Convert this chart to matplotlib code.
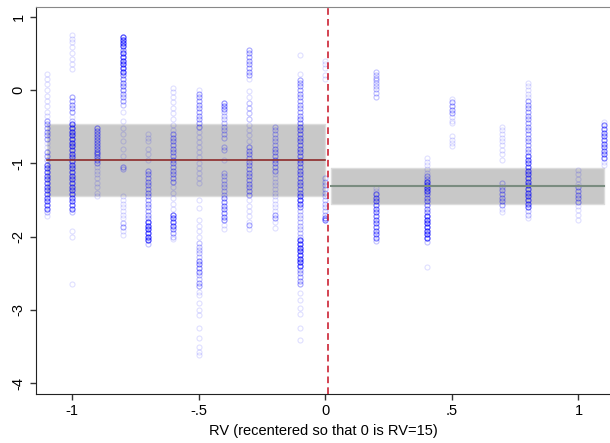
import numpy as np
import matplotlib.pyplot as plt

plt.rcParams['font.family'] = ['Liberation Sans', 'DejaVu Sans']

# columns of observations at each RV value: (outcome, number of overlapping obs)
col_m110 = [(0.22, 1), (0.15, 1), (0.08, 1), (0.0, 1), (-0.08, 1), (-0.15, 1), (-0.22, 1),
            (-0.3, 1), (-0.36, 1), (-0.42, 3), (-0.47, 3), (-0.52, 3), (-0.57, 3), (-0.62, 3),
            (-0.67, 3), (-0.72, 1), (-0.78, 1), (-0.85, 3), (-0.9, 3), (-0.95, 2), (-1.02, 6),
            (-1.07, 6), (-1.12, 6), (-1.17, 6), (-1.22, 6), (-1.27, 6), (-1.32, 6), (-1.37, 6),
            (-1.42, 6), (-1.47, 6), (-1.52, 6), (-1.57, 6), (-1.62, 6), (-1.66, 2), (-1.72, 1)]
col_m100 = [(0.75, 1), (0.7, 1), (0.65, 1), (0.58, 1), (0.5, 1), (0.42, 1), (0.35, 1), (0.28, 1),
            (-0.1, 3), (-0.15, 3), (-0.2, 3), (-0.25, 3), (-0.3, 3), (-0.37, 1), (-0.42, 2),
            (-0.47, 7), (-0.52, 7), (-0.57, 7), (-0.62, 7), (-0.67, 7), (-0.72, 7), (-0.77, 7),
            (-0.82, 6), (-0.87, 6), (-0.92, 6), (-0.97, 6), (-1.02, 6), (-1.07, 6), (-1.12, 6),
            (-1.17, 6), (-1.22, 6), (-1.27, 6), (-1.32, 6), (-1.37, 6), (-1.42, 6), (-1.47, 6),
            (-1.52, 6), (-1.57, 6), (-1.62, 6), (-1.67, 2), (-1.93, 1), (-2.0, 1), (-2.65, 1)]
col_m090 = [(-0.52, 4), (-0.56, 4), (-0.6, 4), (-0.64, 4), (-0.68, 4), (-0.72, 4), (-0.76, 4),
            (-0.8, 4), (-0.84, 4), (-0.88, 4), (-0.92, 4), (-0.96, 4), (-1.0, 3), (-1.05, 1),
            (-1.1, 1), (-1.15, 1), (-1.2, 1), (-1.27, 1), (-1.33, 1), (-1.4, 1), (-1.45, 1)]
col_m080 = [(0.72, 8), (0.68, 8), (0.64, 8), (0.6, 8), (0.55, 4), (0.5, 8), (0.45, 8), (0.4, 8),
            (0.35, 8), (0.3, 8), (0.25, 8), (0.2, 4), (0.15, 4), (0.1, 4), (0.05, 4), (0.0, 4),
            (-0.05, 3), (-0.1, 3), (-0.15, 3), (-0.2, 2), (-0.3, 1), (-0.42, 1), (-0.52, 1),
            (-0.6, 1), (-0.7, 1), (-0.8, 1), (-0.9, 1), (-1.05, 3), (-1.08, 2), (-1.45, 1),
            (-1.5, 1), (-1.55, 1), (-1.6, 1), (-1.65, 1), (-1.7, 1), (-1.75, 1), (-1.82, 2),
            (-1.87, 3), (-1.93, 1), (-1.98, 1)]
col_m070 = [(-0.6, 1), (-0.65, 1), (-0.7, 1), (-0.8, 1), (-0.88, 1), (-0.95, 1), (-1.1, 3),
            (-1.15, 3), (-1.2, 3), (-1.25, 3), (-1.3, 3), (-1.35, 3), (-1.4, 3), (-1.45, 3),
            (-1.5, 3), (-1.55, 3), (-1.6, 3), (-1.65, 3), (-1.7, 3), (-1.75, 3), (-1.8, 8),
            (-1.85, 8), (-1.9, 8), (-1.95, 8), (-2.0, 8), (-2.05, 8), (-2.1, 2)]
col_m060 = [(0.03, 1), (-0.03, 1), (-0.1, 1), (-0.17, 1), (-0.25, 1), (-0.32, 1), (-0.4, 1),
            (-0.48, 1), (-0.55, 1), (-0.6, 3), (-0.65, 3), (-0.7, 3), (-0.75, 3), (-0.8, 3),
            (-0.85, 3), (-0.9, 3), (-0.95, 3), (-1.0, 3), (-1.05, 3), (-1.1, 3), (-1.15, 3),
            (-1.2, 3), (-1.25, 3), (-1.32, 1), (-1.4, 1), (-1.48, 1), (-1.55, 1), (-1.62, 1),
            (-1.7, 6), (-1.75, 6), (-1.8, 6), (-1.85, 6), (-1.9, 4), (-1.95, 3), (-2.0, 2),
            (-2.03, 1)]
col_m050 = [(0.0, 1), (-0.05, 3), (-0.1, 3), (-0.15, 3), (-0.2, 3), (-0.25, 3), (-0.3, 3),
            (-0.35, 3), (-0.4, 3), (-0.45, 3), (-0.5, 3), (-0.57, 1), (-0.64, 1), (-0.71, 1),
            (-0.78, 1), (-0.85, 1), (-0.92, 1), (-0.99, 1), (-1.06, 1), (-1.13, 1), (-1.2, 1),
            (-1.27, 1), (-1.5, 1), (-1.61, 1), (-1.77, 1), (-1.86, 1), (-1.93, 1), (-2.0, 1),
            (-2.09, 2), (-2.14, 2), (-2.18, 2), (-2.23, 2), (-2.28, 2), (-2.33, 4), (-2.38, 4),
            (-2.43, 4), (-2.48, 4), (-2.53, 2), (-2.58, 2), (-2.63, 3), (-2.68, 3), (-2.75, 1),
            (-2.8, 1), (-2.9, 1), (-3.0, 1), (-3.07, 1), (-3.25, 1), (-3.38, 1), (-3.5, 1),
            (-3.57, 1), (-3.62, 1)]
col_m040 = [(-0.18, 4), (-0.22, 4), (-0.26, 4), (-0.3, 2), (-0.35, 2), (-0.4, 2), (-0.45, 2),
            (-0.5, 2), (-0.55, 2), (-0.6, 2), (-0.65, 2), (-0.78, 2), (-0.82, 2), (-0.95, 1),
            (-1.13, 2), (-1.18, 2), (-1.23, 2), (-1.28, 2), (-1.33, 2), (-1.38, 2), (-1.43, 2),
            (-1.48, 4), (-1.53, 4), (-1.58, 4), (-1.63, 4), (-1.68, 4), (-1.73, 4), (-1.78, 4),
            (-1.84, 1), (-1.89, 1)]
col_m030 = [(0.55, 3), (0.5, 3), (0.45, 3), (0.4, 3), (0.35, 3), (0.3, 3), (0.25, 3), (0.2, 3),
            (0.15, 1), (-0.02, 1), (-0.1, 1), (-0.18, 2), (-0.25, 2), (-0.32, 2), (-0.4, 2),
            (-0.48, 1), (-0.55, 1), (-0.62, 1), (-0.7, 1), (-0.78, 3), (-0.83, 3), (-0.88, 3),
            (-0.93, 3), (-0.98, 3), (-1.03, 3), (-1.08, 3), (-1.13, 3), (-1.18, 3), (-1.23, 3),
            (-1.28, 3), (-1.33, 3), (-1.38, 3), (-1.43, 3), (-1.5, 1), (-1.58, 1), (-1.65, 1),
            (-1.72, 1), (-1.8, 1), (-1.84, 3), (-1.9, 1)]
col_m020 = [(-0.5, 2), (-0.55, 2), (-0.6, 2), (-0.65, 2), (-0.7, 2), (-0.75, 2), (-0.8, 3),
            (-0.85, 3), (-0.9, 3), (-0.95, 3), (-1.0, 3), (-1.05, 3), (-1.1, 3), (-1.15, 1),
            (-1.2, 1), (-1.25, 1), (-1.3, 1), (-1.35, 1), (-1.4, 1), (-1.45, 1), (-1.5, 1),
            (-1.55, 1), (-1.6, 1), (-1.65, 1), (-1.7, 3), (-1.75, 3), (-1.8, 1), (-1.88, 1)]
col_m010 = [(0.48, 1), (0.22, 1), (0.14, 3), (0.1, 3), (0.05, 3), (0.0, 3), (-0.05, 3),
            (-0.1, 3), (-0.15, 3), (-0.2, 3), (-0.25, 3), (-0.3, 3), (-0.35, 3), (-0.4, 4),
            (-0.45, 4), (-0.5, 4), (-0.55, 4), (-0.6, 4), (-0.65, 4), (-0.7, 4), (-0.75, 4),
            (-0.8, 4), (-0.85, 4), (-0.9, 4), (-0.95, 4), (-1.0, 4), (-1.05, 4), (-1.1, 4),
            (-1.15, 4), (-1.2, 4), (-1.25, 4), (-1.3, 4), (-1.35, 4), (-1.4, 4), (-1.45, 6),
            (-1.5, 8), (-1.55, 6), (-1.6, 4), (-1.65, 2), (-1.7, 2), (-1.75, 2), (-1.8, 2),
            (-1.85, 2), (-1.9, 2), (-1.95, 2), (-2.0, 2), (-2.05, 8), (-2.1, 8), (-2.15, 8),
            (-2.2, 8), (-2.25, 8), (-2.3, 8), (-2.35, 8), (-2.4, 8), (-2.45, 3), (-2.5, 3),
            (-2.55, 3), (-2.6, 3), (-2.65, 3), (-2.77, 1), (-2.86, 1), (-2.97, 1), (-3.06, 1),
            (-3.25, 1), (-3.41, 1)]
col_p000 = [(0.4, 1), (0.35, 1), (0.3, 1), (0.2, 1), (0.15, 1), (-1.2, 2), (-1.25, 2),
            (-1.3, 2), (-1.35, 2), (-1.4, 2), (-1.45, 2), (-1.5, 2), (-1.55, 2), (-1.6, 2),
            (-1.65, 2), (-1.7, 2), (-1.74, 5), (-1.77, 5)]
col_p020 = [(0.25, 2), (0.21, 2), (0.17, 2), (0.13, 2), (0.09, 2), (0.05, 2), (0.01, 2),
            (-0.04, 2), (-0.09, 2), (-1.34, 1), (-1.38, 1), (-1.42, 5), (-1.47, 5), (-1.52, 5),
            (-1.57, 5), (-1.62, 5), (-1.67, 5), (-1.72, 5), (-1.77, 5), (-1.82, 5), (-1.87, 5),
            (-1.92, 5), (-1.97, 5), (-2.02, 5), (-2.06, 2)]
col_p040 = [(-0.93, 1), (-0.98, 1), (-1.03, 1), (-1.08, 1), (-1.13, 1), (-1.18, 3), (-1.22, 3),
            (-1.26, 7), (-1.3, 7), (-1.34, 7), (-1.38, 7), (-1.42, 4), (-1.47, 4), (-1.52, 4),
            (-1.57, 4), (-1.62, 4), (-1.67, 4), (-1.72, 8), (-1.77, 8), (-1.82, 8), (-1.87, 8),
            (-1.92, 8), (-1.97, 8), (-2.02, 8), (-2.07, 2), (-2.42, 1)]
col_p050 = [(-0.12, 1), (-0.17, 3), (-0.22, 3), (-0.27, 3), (-0.32, 3), (-0.37, 1), (-0.42, 1),
            (-0.45, 1), (-0.63, 1), (-0.68, 1), (-0.72, 1), (-0.76, 1)]
col_p070 = [(-0.5, 1), (-0.55, 1), (-0.6, 1), (-0.65, 1), (-0.7, 1), (-0.75, 1), (-0.82, 1),
            (-0.88, 1), (-0.95, 1), (-1.27, 2), (-1.32, 2), (-1.37, 3), (-1.42, 3), (-1.47, 3),
            (-1.52, 3), (-1.57, 3), (-1.62, 1), (-1.66, 1)]
col_p080 = [(0.1, 1), (0.05, 1), (0.0, 1), (-0.05, 1), (-0.1, 1), (-0.15, 3), (-0.2, 3),
            (-0.25, 3), (-0.3, 3), (-0.35, 3), (-0.4, 3), (-0.45, 3), (-0.5, 3), (-0.55, 3),
            (-0.6, 3), (-0.65, 3), (-0.7, 3), (-0.75, 3), (-0.8, 3), (-0.85, 3), (-0.9, 6),
            (-0.95, 6), (-1.0, 6), (-1.05, 6), (-1.1, 6), (-1.15, 6), (-1.2, 6), (-1.25, 6),
            (-1.3, 6), (-1.35, 6), (-1.4, 6), (-1.45, 6), (-1.5, 6), (-1.55, 6), (-1.6, 6),
            (-1.65, 2), (-1.7, 2), (-1.74, 1)]
col_p100 = [(-1.09, 1), (-1.15, 1), (-1.22, 1), (-1.28, 1), (-1.33, 3), (-1.38, 3), (-1.43, 3),
            (-1.48, 3), (-1.53, 3), (-1.58, 1), (-1.64, 1), (-1.7, 1), (-1.77, 1)]
col_p110 = [(-0.43, 1), (-0.48, 5), (-0.53, 5), (-0.58, 5), (-0.63, 5), (-0.68, 5), (-0.73, 5),
            (-0.78, 5), (-0.83, 5), (-0.88, 5), (-0.93, 5), (-0.98, 1), (-1.03, 1)]

rv_values = [-1.1, -1.0, -0.9, -0.8, -0.7, -0.6, -0.5, -0.4, -0.3, -0.2, -0.1, 0.0,
             0.2, 0.4, 0.5, 0.7, 0.8, 1.0, 1.1]
columns = [col_m110, col_m100, col_m090, col_m080, col_m070, col_m060, col_m050, col_m040,
           col_m030, col_m020, col_m010, col_p000, col_p020, col_p040, col_p050, col_p070,
           col_p080, col_p100, col_p110]

# fitted means and confidence bands on each side of the cutoff
cutoff = 0.01
left_x = [-1.1, 0.0]
left_fit = [-0.955, -0.955]
left_lo = [-1.442, -1.442]
left_hi = [-0.464, -0.464]
right_x = [0.023, 1.1]
right_fit = [-1.305, -1.305]
right_lo = [-1.551, -1.551]
right_hi = [-1.06, -1.06]

xs = []
ys = []
for rv, col in zip(rv_values, columns):
    for y, n in col:
        xs += [rv] * n
        ys += [y] * n

fig = plt.figure(figsize=(6.1, 4.43), dpi=100)
ax = fig.add_axes([0.059, 0.1106, 0.941, 0.8736])

ax.fill_between(left_x, left_lo, left_hi, color='#c8c8c8', edgecolor='#dcdcdc', lw=1, zorder=1)
ax.fill_between(right_x, right_lo, right_hi, color='#c8c8c8', edgecolor='#dcdcdc', lw=1, zorder=1)

ax.plot(xs, ys, 'o', ms=3.6, mfc='none', mec='#0000ff', mew=0.85, alpha=0.12, zorder=2)

ax.plot(left_x, left_fit, color='#8c2a2a', lw=1.2, zorder=3)
ax.plot(right_x, right_fit, color='#7a8c80', lw=1.5, zorder=3)

ax.axvline(cutoff, color='#cc2233', lw=1.2, ls=(0, (4, 2.5)), zorder=4)

ax.set_xlim(-1.142, 1.1245)
ax.set_ylim(-4.147, 1.132)
ax.set_xticks([-1, -0.5, 0, 0.5, 1])
ax.set_xticklabels(['-1', '-.5', '0', '.5', '1'])
ax.set_yticks([1, 0, -1, -2, -3, -4])
ax.set_yticklabels(['1', '0', '-1', '-2', '-3', '-4'], rotation=90, va='center')
ax.tick_params(labelsize=10.5, length=4, width=1, color='#333333')

ax.spines['right'].set_visible(False)
ax.spines['top'].set_color('#888888')
ax.spines['left'].set_color('#222222')
ax.spines['bottom'].set_color('#222222')

ax.set_xlabel("RV (recentered so that 0 is RV=15)", fontsize=10.5, labelpad=4)

plt.savefig('out.png', dpi=100)
